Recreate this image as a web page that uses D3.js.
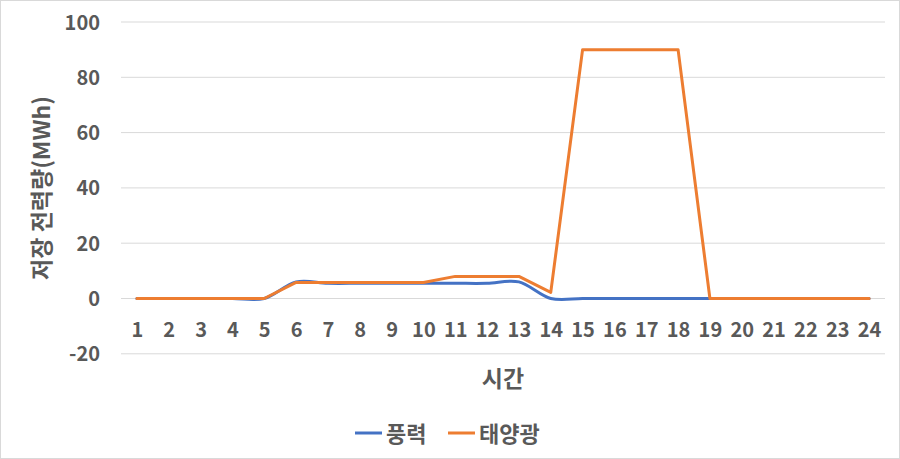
<!DOCTYPE html>
<html><head><meta charset="utf-8">
<script src="https://cdn.jsdelivr.net/npm/d3@7"></script>
<style>body{margin:0;background:#fff}svg{display:block}text{font-family:"Noto Sans CJK KR","Noto Sans",sans-serif;font-weight:bold;fill:#595959}</style>
</head><body><svg id="c" width="900" height="459"></svg>
<script>
const hours = ["1","2","3","4","5","6","7","8","9","10","11","12","13","14","15","16","17","18","19","20","21","22","23","24"];
const wind  = [0,0,0,0,0,6,5.5,5.5,5.5,5.5,5.5,5.5,6,0,0,0,0,0,0,0,0,0,0,0];
const solar = [0,0,0,0,0,5.8,5.8,5.8,5.8,5.8,8,8,8,2.2,90,90,90,90,0,0,0,0,0,0];
const yTicks = [-20,0,20,40,60,80,100];
const seriesNames = ["풍력","태양광"];
const colors = ["#4472C4","#ED7D31"];

const svg = d3.select("#c");
svg.append("rect").attr("x",0.5).attr("y",0.5).attr("width",899).attr("height",458).attr("fill","#fff").attr("stroke","#d9d9d9");

const L=121, R=885;
const x = d3.scalePoint().domain(hours).range([L,R]).padding(0.5);
const y = d3.scaleLinear().domain([-20,100]).range([353.8,22]);

// gridlines
svg.append("g").selectAll("line").data(yTicks).join("line")
  .attr("x1",L).attr("x2",R).attr("y1",d=>y(d)).attr("y2",d=>y(d))
  .attr("stroke","#d9d9d9").attr("stroke-width",1);

// y axis labels
const ya = svg.append("g").attr("transform",`translate(${L-21},0)`)
  .call(d3.axisLeft(y).tickValues(yTicks).tickFormat(d=>String(d)).tickSize(0).tickPadding(0));
ya.select(".domain").remove();
ya.selectAll("text").attr("font-size",20).attr("dy","0.35em").attr("font-family",null);

// x axis labels at zero line
const xa = svg.append("g").attr("transform",`translate(0,${y(0)+31})`)
  .call(d3.axisBottom(x).tickSize(0).tickPadding(0));
xa.select(".domain").remove();
xa.selectAll("text").attr("font-size",20).attr("dy","0.35em").attr("font-family",null);

// lines
const lineSmooth = d3.line().x((d,i)=>x(hours[i])).y(d=>y(d)).curve(d3.curveCardinal.tension(0));
const lineStraight = d3.line().x((d,i)=>x(hours[i])).y(d=>y(d));
svg.append("path").datum(wind).attr("d",lineSmooth).attr("fill","none").attr("stroke",colors[0]).attr("stroke-width",3).attr("stroke-linecap","round");
svg.append("path").datum(solar).attr("d",lineStraight).attr("fill","none").attr("stroke",colors[1]).attr("stroke-width",3).attr("stroke-linejoin","round").attr("stroke-linecap","round");

// axis titles
svg.append("text").attr("x",(L+R)/2).attr("y",377).attr("text-anchor","middle").attr("dominant-baseline","central").attr("font-size",23).text("시간");
svg.append("text").attr("transform","translate(40,188) rotate(-90)").attr("text-anchor","middle").attr("dominant-baseline","central").attr("font-size",23).text("저장 전력량(MWh)");

// legend
const lx=[355,448];
seriesNames.forEach((n,i)=>{
  svg.append("line").attr("x1",lx[i]).attr("x2",lx[i]+27).attr("y1",433).attr("y2",433).attr("stroke",colors[i]).attr("stroke-width",3);
  svg.append("text").attr("x",lx[i]+31).attr("y",432).attr("dominant-baseline","central").attr("font-size",22).text(n);
});
</script></body></html>
